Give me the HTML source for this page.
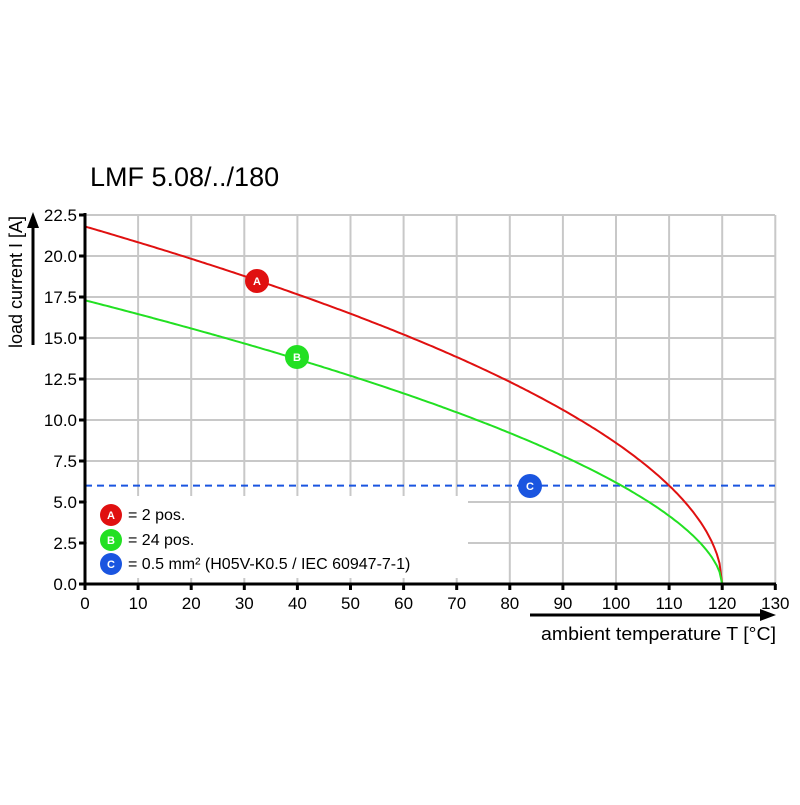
<!DOCTYPE html><html><head><style>body{margin:0;background:#fff}svg{font-family:"Liberation Sans",Arial,sans-serif}</style></head><body>
<svg id="s" width="800" height="800" xmlns="http://www.w3.org/2000/svg">
<text x="90" y="186" font-size="27" fill="#000">LMF 5.08/../180</text>
<g id="grid" stroke="#c8c8c8" stroke-width="2"></g>
<rect x="87" y="496" width="381" height="82" fill="#fff"/>
<line x1="85" y1="485.6" x2="775" y2="485.6" stroke="#1a55e0" stroke-width="2" stroke-dasharray="7,5"/>
<polyline id="ra" fill="none" stroke="#e01010" stroke-width="2"/>
<polyline id="gb" fill="none" stroke="#22e022" stroke-width="2"/>
<g id="ax" stroke="#000" stroke-width="3"></g>
<g id="lab" font-size="17" fill="#000"></g>
<line x1="33" y1="345" x2="33" y2="225" stroke="#000" stroke-width="3"/>
<polygon points="33,212 27,228 39,228" fill="#000"/>
<text transform="translate(22,282) rotate(-90)" font-size="18" text-anchor="middle">load current I [A]</text>
<line x1="530" y1="615" x2="762" y2="615" stroke="#000" stroke-width="3"/>
<polygon points="776,615 760,609 760,621" fill="#000"/>
<text x="776" y="640" font-size="18" text-anchor="end" textLength="235" lengthAdjust="spacingAndGlyphs">ambient temperature T [°C]</text>
<g font-weight="bold" font-size="11" fill="#fff" text-anchor="middle">
<circle cx="257" cy="281" r="12" fill="#e01010"/><text x="257" y="285">A</text>
<circle cx="297" cy="357" r="12" fill="#22e022"/><text x="297" y="361">B</text>
<circle cx="530" cy="486" r="12" fill="#1a55e0"/><text x="530" y="490">C</text>
<circle cx="111" cy="515" r="11" fill="#e01010"/><text x="111" y="519">A</text>
<circle cx="111" cy="540" r="11" fill="#22e022"/><text x="111" y="544">B</text>
<circle cx="111" cy="564" r="11" fill="#1a55e0"/><text x="111" y="568">C</text>
</g>
<g font-size="16" fill="#000">
<text x="128" y="520">= 2 pos.</text><text x="128" y="545">= 24 pos.</text><text x="128" y="569">= 0.5 mm² (H05V-K0.5 / IEC 60947-7-1)</text>
</g>
</svg>
<script>
var X=t=>85+t*5.31,Y=v=>584-v*16.4,ns="http://www.w3.org/2000/svg";
function el(p,n,a,t){var e=document.createElementNS(ns,n);for(var k in a)e.setAttribute(k,a[k]);if(t)e.textContent=t;document.getElementById(p).appendChild(e);}
for(var i=1;i<=13;i++)el("grid","line",{x1:X(i*10),y1:215,x2:X(i*10),y2:584});
for(var j=1;j<=9;j++)el("grid","line",{x1:85,y1:Y(j*2.5),x2:775,y2:Y(j*2.5)});
el("ax","line",{x1:85,y1:213,x2:85,y2:585});el("ax","line",{x1:84,y1:584,x2:776,y2:584});
for(var i=0;i<=13;i++){el("ax","line",{x1:X(i*10),y1:584,x2:X(i*10),y2:590});el("lab","text",{x:X(i*10),y:609,"text-anchor":"middle"},String(i*10));}
for(var j=0;j<=9;j++){el("ax","line",{x1:79,y1:Y(j*2.5),x2:85,y2:Y(j*2.5)});el("lab","text",{x:77,y:Y(j*2.5)+6,"text-anchor":"end"},(j*2.5).toFixed(1));}
function curve(id,i0,p){var pts=[];for(var t=0;t<=120;t+=0.5){pts.push(X(t).toFixed(1)+","+Y(i0*Math.pow((120-t)/120,p)).toFixed(1));}document.getElementById(id).setAttribute("points",pts.join(" "));}
curve("ra",21.8,0.519);curve("gb",17.3,0.574);
</script>
</body></html>
